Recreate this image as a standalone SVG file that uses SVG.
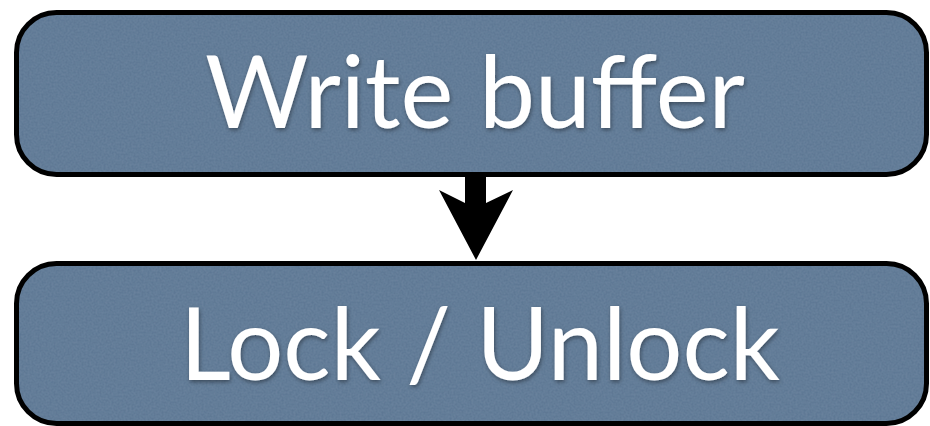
<svg xmlns="http://www.w3.org/2000/svg" width="930" height="426" viewBox="0 0 930 426">
<style>
.fill{fill:#5a7492;stroke:none}
.edge{fill:none;stroke:#000;stroke-width:5}
.lbl{font-family:Lato,"Open Sans","DejaVu Sans",sans-serif;font-size:100px;fill:#fff;text-anchor:middle}
</style>
<defs>
<filter id="tex" x="0" y="0" width="1" height="1">
<feTurbulence type="fractalNoise" baseFrequency="0.5" numOctaves="2" seed="3" result="n"/>
<feColorMatrix in="n" type="matrix" values="0 0 0 0 0.30  0 0 0 0 0.40  0 0 0 0 0.52  0 0 0 0.25 0" result="c"/>
<feComposite in="c" in2="SourceGraphic" operator="in" result="t"/>
<feMerge><feMergeNode in="SourceGraphic"/><feMergeNode in="t"/></feMerge>
</filter>
<filter id="sh" x="-5%" y="-20%" width="110%" height="140%">
<feDropShadow dx="1" dy="2" stdDeviation="2" flood-color="#000" flood-opacity="0.4"/>
</filter>
</defs>
<g id="connectors">
<path d="M465,177 L486,177 L486,203 L513,190 L476,260 L439,190 L465,203 Z" fill="#000"/>
</g>
<g id="write-buffer">
<rect class="fill" x="16.5" y="12.5" width="910" height="162" rx="40" filter="url(#tex)"/>
<rect class="edge" x="16.5" y="12.5" width="910" height="162" rx="40"/>
<text class="lbl" x="475" y="128" textLength="540" lengthAdjust="spacingAndGlyphs" filter="url(#sh)">Write buffer</text>
</g>
<g id="lock-unlock">
<rect class="fill" x="16.5" y="263.5" width="910" height="160" rx="40" filter="url(#tex)"/>
<rect class="edge" x="16.5" y="263.5" width="910" height="160" rx="40"/>
<text class="lbl" x="480" y="380" textLength="600" lengthAdjust="spacingAndGlyphs" filter="url(#sh)">Lock / Unlock</text>
</g>
</svg>
